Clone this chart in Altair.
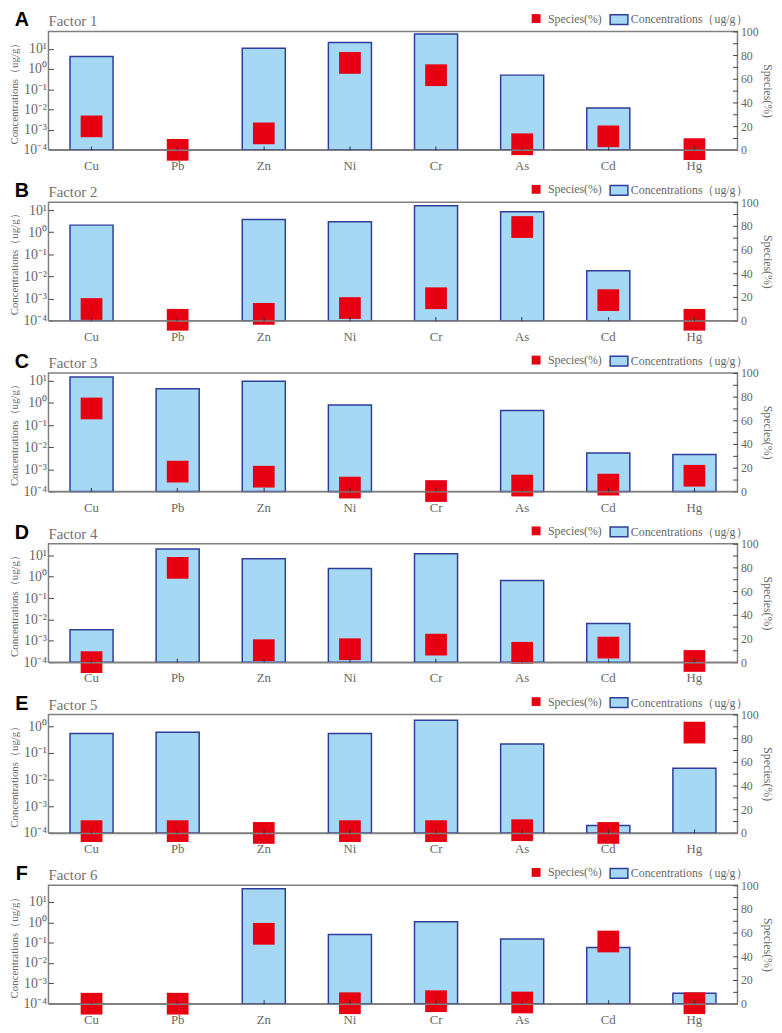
import altair as alt
import pandas as pd

elements = ["Cu", "Pb", "Zn", "Ni", "Cr", "As", "Cd", "Hg"]
factors = ["Factor 1", "Factor 2", "Factor 3", "Factor 4", "Factor 5", "Factor 6"]
letters = ["A", "B", "C", "D", "E", "F"]

# Concentrations (ug/g); 0 = no bar
conc_f1 = [4.2, 0, 10.8, 20.4, 54, 0.50, 0.0118, 0]
conc_f2 = [2.1, 0, 3.8, 3.0, 16, 8.5, 0.018, 0]
conc_f3 = [15, 4.4, 9.7, 0.81, 0, 0.46, 0.0054, 0.0047]
conc_f4 = [0.0033, 20, 7.0, 2.4, 12, 0.66, 0.0065, 0]
conc_f5 = [0.54, 0.60, 0, 0.54, 1.7, 0.22, 0.00019, 0.027]
conc_f6 = [0, 0, 44, 0.25, 1.07, 0.15, 0.058, 0.00033]

# Species (%)
spec_f1 = [19.8, 0, 13.9, 73.4, 63, 4.7, 11.4, 0.6]
spec_f2 = [9.8, 0.7, 5.7, 10.6, 18.9, 79, 17.3, 0.7]
spec_f3 = [70, 16.7, 12.4, 3.2, 0.3, 4.9, 5.7, 13.2]
spec_f4 = [0, 79.6, 10.1, 10.9, 14.8, 7.9, 12.3, 1.0]
spec_f5 = [1.5, 1.5, 0, 1.5, 1.5, 2.3, 0, 84.7]
spec_f6 = [0, 0, 59, 0.4, 2.1, 1.0, 52.5, 0.4]

# upper end of the log axis in each panel
conc_top = [73, 23, 23, 35, 2.8, 66]
conc_floor = 1e-4

concs = [conc_f1, conc_f2, conc_f3, conc_f4, conc_f5, conc_f6]
specs = [spec_f1, spec_f2, spec_f3, spec_f4, spec_f5, spec_f6]

RED = "#e60012"
BLUE_FILL = "#a5d8f5"
BLUE_STROKE = "#2f3c99"
GRAY = "#666666"
FRAME = "#808080"
SERIF = "Liberation Serif"
W, H = 698, 120

SUP = ("datum.value >= 9 ? '10¹' : datum.value >= 0.9 ? '10⁰' : datum.value >= 0.09 ? '10⁻¹' : "
       "datum.value >= 0.009 ? '10⁻²' : datum.value >= 0.0009 ? '10⁻³' : '10⁻⁴'")


def panel(i):
    df = pd.DataFrame({
        "element": elements,
        "conc": concs[i],
        "species": specs[i],
        "cl": ["Concentrations（ug/g）"] * len(elements),
        "sl": ["Species(%)"] * len(elements),
    })
    top = conc_top[i]
    tick_vals = [v for v in [1e-4, 1e-3, 1e-2, 1e-1, 1, 10] if v <= top]
    xscale = alt.Scale(domain=elements, paddingInner=0.5, paddingOuter=0.25)

    bars = alt.Chart(df).transform_filter("datum.conc > 0").mark_bar(
        stroke=BLUE_STROKE, strokeWidth=1.5, opacity=1
    ).encode(
        x=alt.X("element:N", sort=elements, scale=xscale,
                axis=alt.Axis(orient="bottom", domain=True, domainColor=FRAME, domainWidth=1.5,
                              ticks=False, labels=False, title=None, zindex=1)),
        y=alt.Y("conc:Q", scale=alt.Scale(type="log", domain=[conc_floor, top], nice=False),
                axis=alt.Axis(values=tick_vals, labelExpr=SUP, title="Concentrations（ug/g）",
                              offset=-5, tickSize=5, domain=False, labelFontSize=14,
                              labelPadding=2, titleFontSize=11, titlePadding=3)),
        y2=alt.datum(conc_floor),
        fill=alt.Fill("cl:N", scale=alt.Scale(range=[BLUE_FILL]),
                      legend=alt.Legend(title=None, orient="none", legendX=W - 130, legendY=-22,
                                        symbolType="M-1,-0.55L1,-0.55L1,0.55L-1,0.55Z",
                                        symbolSize=324, symbolStrokeColor=BLUE_STROKE,
                                        symbolStrokeWidth=1.5, labelFont=SERIF, labelFontSize=12,
                                        labelColor=GRAY, labelOffset=2, padding=0)),
    )

    sq = alt.Chart(df).mark_square(size=484, opacity=1).encode(
        x=alt.X("element:N", sort=elements, scale=xscale,
                axis=alt.Axis(orient="bottom", domain=False, offset=-4, tickSize=4,
                              tickColor="#333333", labelFontSize=13, labelPadding=10,
                              labelAngle=0, title=None, zindex=1)),
        y=alt.Y("species:Q", scale=alt.Scale(domain=[0, 100], nice=False),
                axis=alt.Axis(orient="right", values=list(range(0, 101, 10)),
                              labelExpr="datum.value % 20 === 0 ? datum.label : ''",
                              offset=-5, tickSize=5, domain=False, labelFontSize=12,
                              labelPadding=3, title="Species(%)", titleFontSize=12,
                              titlePadding=2)),
        color=alt.Color("sl:N", scale=alt.Scale(range=[RED]),
                        legend=alt.Legend(title=None, orient="none", legendX=W - 210, legendY=-19,
                                          symbolType="square", symbolSize=81,
                                          labelFont=SERIF, labelFontSize=12, labelColor=GRAY,
                                          labelOffset=6, padding=0)),
    )

    heads = pd.DataFrame({"letter": [letters[i]], "factor": [factors[i]]})
    letter = alt.Chart(heads).mark_text(
        font="Liberation Sans", fontWeight="bold", fontSize=20, color="black",
        align="center", baseline="alphabetic"
    ).encode(text="letter:N", x=alt.value(-27), y=alt.value(-5))
    ftitle = alt.Chart(heads).mark_text(
        font=SERIF, fontSize=15, color="#707070", align="left", baseline="alphabetic"
    ).encode(text="factor:N", x=alt.value(0), y=alt.value(-5))

    return alt.layer(bars, sq, letter, ftitle).resolve_scale(y="independent").resolve_axis(
        x="independent", y="independent"
    ).properties(width=W, height=H)


chart = alt.vconcat(*[panel(i) for i in range(6)], spacing=6).resolve_scale(
    x="independent", y="independent", color="independent", fill="independent"
).resolve_legend(color="independent", fill="independent").properties(
    padding={"left": 0, "top": -6, "right": 0, "bottom": 0}
).configure_view(
    stroke=FRAME, strokeWidth=1.5
).configure_axis(
    labelFont=SERIF, titleFont=SERIF, labelColor=GRAY, titleColor=GRAY,
    tickColor="#444444", titleFontWeight="normal", grid=False
)

chart.save("out.html", embed_options={"renderer": "svg", "actions": False})
